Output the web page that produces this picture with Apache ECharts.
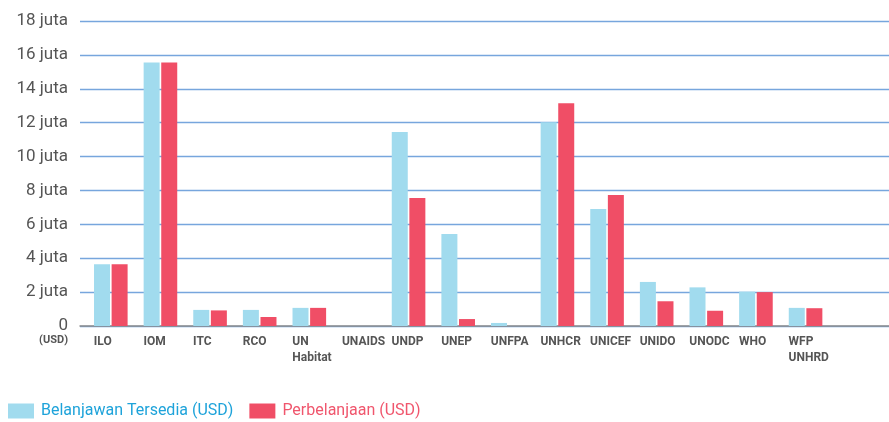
<!DOCTYPE html>
<html>
<head>
<meta charset="utf-8">
<script src="https://cdn.jsdelivr.net/npm/echarts@6/dist/echarts.min.js"></script>
<style>html,body{margin:0;padding:0;background:#fff}#c{width:889px;height:422px}</style>
</head>
<body>
<div id="c"></div>
<script>
// Data (values in millions of USD)
const categories = ['ILO','IOM','ITC','RCO','UN\nHabitat','UNAIDS','UNDP','UNEP','UNFPA','UNHCR','UNICEF','UNIDO','UNODC','WHO','WFP\nUNHRD',''];
const budgetAvailable = [3.65,15.55,0.95,0.95,1.07,0,11.45,5.43,0.18,12.02,6.9,2.6,2.28,2.03,1.07,null];
const expenditure = [3.65,15.55,0.92,0.53,1.07,0,7.55,0.41,0,13.14,7.73,1.46,0.9,2.0,1.05,null];
const seriesNames = ['Belanjawan Tersedia (USD)','Perbelanjaan (USD)'];
const yMax = 18, yStep = 2;

const FONT = 'Roboto, sans-serif';
const chart = echarts.init(document.getElementById('c'));
const TOP = 21, BOTTOM = 96;
const hiddenY = (gi) => ({type:'value', gridIndex:gi, min:0, max:yMax, interval:yStep, show:false});
chart.setOption({
  animation:false,
  color:['#a1dbee','#f04e66'],
  legend:{
    left:3, top:398, itemWidth:26, itemHeight:15, itemGap:16, icon:'rect',
    textStyle:{fontFamily:FONT, fontSize:16, padding:[0,0,0,2]},
    data:[{name:seriesNames[0], textStyle:{color:'#1ea3da'}},{name:seriesNames[1], textStyle:{color:'#f0566d'}}]
  },
  grid:[
    {left:80, right:0, top:TOP, bottom:BOTTOM, containLabel:false},
    {left:86, right:9, top:TOP, bottom:BOTTOM, containLabel:false},
    {left:69, right:26, top:TOP, bottom:BOTTOM, containLabel:false}
  ],
  xAxis:[
    {type:'category', gridIndex:0, data:['a'], axisLine:{show:true, lineStyle:{color:'#8c8c8c', width:1.5}}, axisTick:{show:false}, axisLabel:{show:false}},
    {type:'category', gridIndex:1, data:categories, axisLine:{show:false}, axisTick:{show:false}, axisLabel:{show:false}},
    {type:'category', gridIndex:2, data:categories, axisLine:{show:false}, axisTick:{show:false},
     axisLabel:{show:true, interval:0, align:'left', margin:8, fontFamily:FONT, fontWeight:'bold', fontSize:12, lineHeight:16, color:'#555'}}
  ],
  yAxis:[
    {type:'value', gridIndex:0, min:0, max:yMax, interval:yStep,
     axisLine:{show:false}, axisTick:{show:false},
     splitLine:{show:true, lineStyle:{color:'#77a6dd', width:1.3}},
     axisLabel:{margin:12, fontFamily:'Roboto', fontSize:17, color:'#555', formatter:(v)=> v===0 ? '0' : v + ' juta'}},
    hiddenY(1), hiddenY(2)
  ],
  graphic:[{type:'text', right:889-68, top:335, style:{text:'(USD)', fontFamily:FONT, fontWeight:'bold', fontSize:11, fill:'#555', align:'right'}}],
  series:[
    {name:seriesNames[0], type:'bar', xAxisIndex:1, yAxisIndex:1, data:budgetAvailable, barWidth:16, barGap:'10%'},
    {name:seriesNames[1], type:'bar', xAxisIndex:1, yAxisIndex:1, data:expenditure, barWidth:16, barGap:'10%'}
  ]
});
</script>
</body>
</html>
